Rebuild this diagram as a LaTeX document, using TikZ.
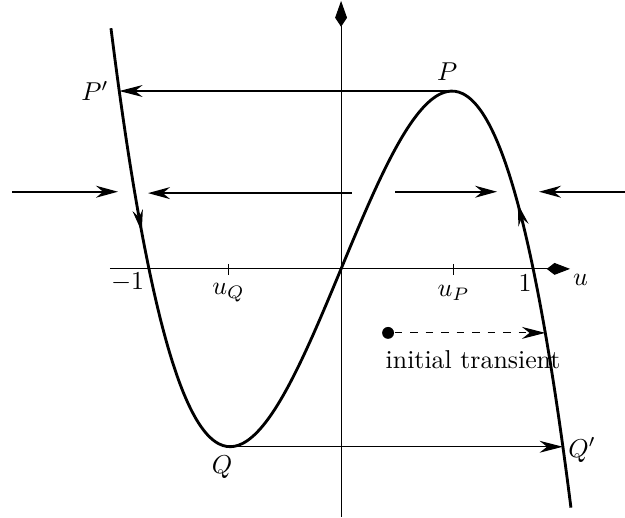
\documentclass[tikz,border=0pt]{standalone}
\usepackage{amsmath}
\usepackage{amssymb}
\usepackage{tikz}
\usetikzlibrary{arrows.meta,positioning,calc}
\tikzset{
    axis/.style={thin},
    curve/.style={line width=1.1pt},
    flow/.style={-{Stealth[length=8.5pt,width=4.6pt]}, thick},
    jump/.style={-{Stealth[length=9pt,width=4.6pt]}, thin},
    drift/.style={-{Stealth[length=8.5pt,width=4pt]}, line width=1.1pt},
    dot/.style={circle, fill, inner sep=0pt, minimum size=4.6pt}
}

\begin{document}
\begin{tikzpicture}[x=2.652cm,y=6.283cm]
    \useasboundingbox (-1.749,-0.539) rectangle (1.456,0.582);

    % axes
    \coordinate (ul) at (-1.185,0);
    \coordinate (ur) at (1.174,0);
    \coordinate (vb) at (0,-0.537);
    \coordinate (vt) at (0,0.580);
    \draw[axis, -{Kite[length=9pt,width=4.6pt,inset=3pt]}] (ul) -- (ur);
    \draw[axis, -{Kite[length=10pt,width=4.6pt,inset=3.5pt]}] (vb) -- (vt);
    \node (lu) at (1.228,-0.024) {$u$};
    \node (lm1) at (-1.095,-0.030) {$-1$};
    \node (lp1) at (0.944,-0.030) {$1$};
    \foreach \x/\s in {-0.577/Q,0.577/P} {
        \draw[axis] (\x,0.011) -- (\x,-0.013);
        \node at (\x,-0.052) {$u_{\s}$};
    }

    % the cubic nullcline
    \draw[curve, domain=-1.18:1.18, samples=120, smooth]
        plot (\x, {1.015*\x*(1-\x*\x/0.970225)});

    % jumps
    \coordinate (P) at (0.569,0.385);
    \coordinate (Pp) at (-1.137,0.385);
    \coordinate (Q) at (-0.569,-0.385);
    \coordinate (Qp) at (1.137,-0.385);
    \draw[jump] (P) -- (Pp);
    \draw[jump] (Q) -- (Qp);
    \node (lP) at (0.544,0.426) {$P$};
    \node (lPp) at (-1.262,0.385) {$P'$};
    \node (lQ) at (-0.610,-0.429) {$Q$};
    \node (lQp) at (1.236,-0.392) {$Q'$};

    % fast flow
    \coordinate (a1) at (-1.687,0.167);
    \coordinate (b1) at (-1.144,0.167);
    \coordinate (a2) at (0.056,0.164);
    \coordinate (b2) at (-0.990,0.164);
    \coordinate (a3) at (0.277,0.167);
    \coordinate (b3) at (0.800,0.167);
    \coordinate (a4) at (1.456,0.167);
    \coordinate (b4) at (1.015,0.167);
    \draw[flow] (a1) -- (b1);
    \draw[flow] (a2) -- (b2);
    \draw[flow] (a3) -- (b3);
    \draw[flow] (a4) -- (b4);

    % slow flow on the branches
    \coordinate (s1) at (-1.034,0.107);
    \coordinate (t1) at (-1.022,0.080);
    \coordinate (s2) at (0.922,0.116);
    \coordinate (t2) at (0.906,0.141);
    \draw[drift] (s1) -- (t1);
    \draw[drift] (s2) -- (t2);

    % initial transient
    \node[dot] (x0) at (0.241,-0.1385) {};
    \coordinate (xe) at (1.047,-0.1385);
    \draw[jump, dashed] (x0) -- (xe);
    \node (lx) at (0.677,-0.197) {initial transient};
\end{tikzpicture}
\end{document}
